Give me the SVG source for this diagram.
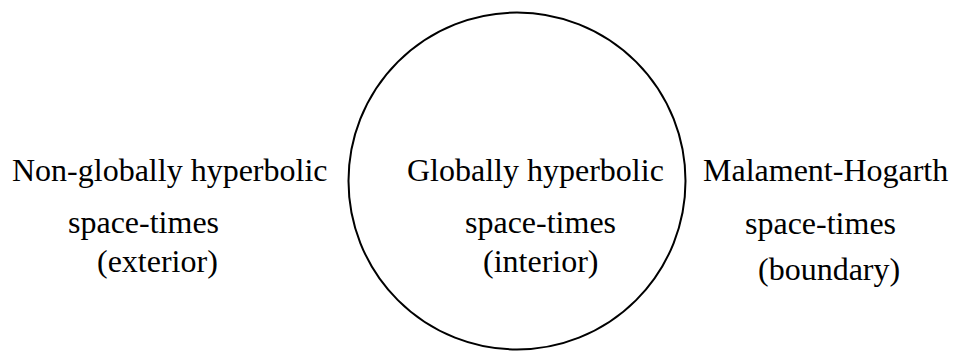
<svg xmlns="http://www.w3.org/2000/svg" width="954" height="352" viewBox="0 0 954 352">
<style>
text{font-family:"Liberation Serif","Times New Roman",serif;font-size:32px;fill:#000}
.c{fill:none;stroke:#000;stroke-width:2}
</style>
<rect width="954" height="352" fill="#fff"/>
<g id="boundary-circle"><circle class="c" cx="517" cy="181" r="168.5"/></g>
<g id="connectors"></g>
<g id="exterior">
<text x="12" y="181">Non-globally hyperbolic</text>
<text x="68" y="233">space-times</text>
<text x="97" y="272">(exterior)</text>
</g>
<g id="interior">
<text x="407" y="181">Globally hyperbolic</text>
<text x="465" y="233">space-times</text>
<text x="483" y="272">(interior)</text>
</g>
<g id="boundary">
<text x="703" y="181">Malament-Hogarth</text>
<text x="745" y="234">space-times</text>
<text x="758" y="280">(boundary)</text>
</g>
</svg>
